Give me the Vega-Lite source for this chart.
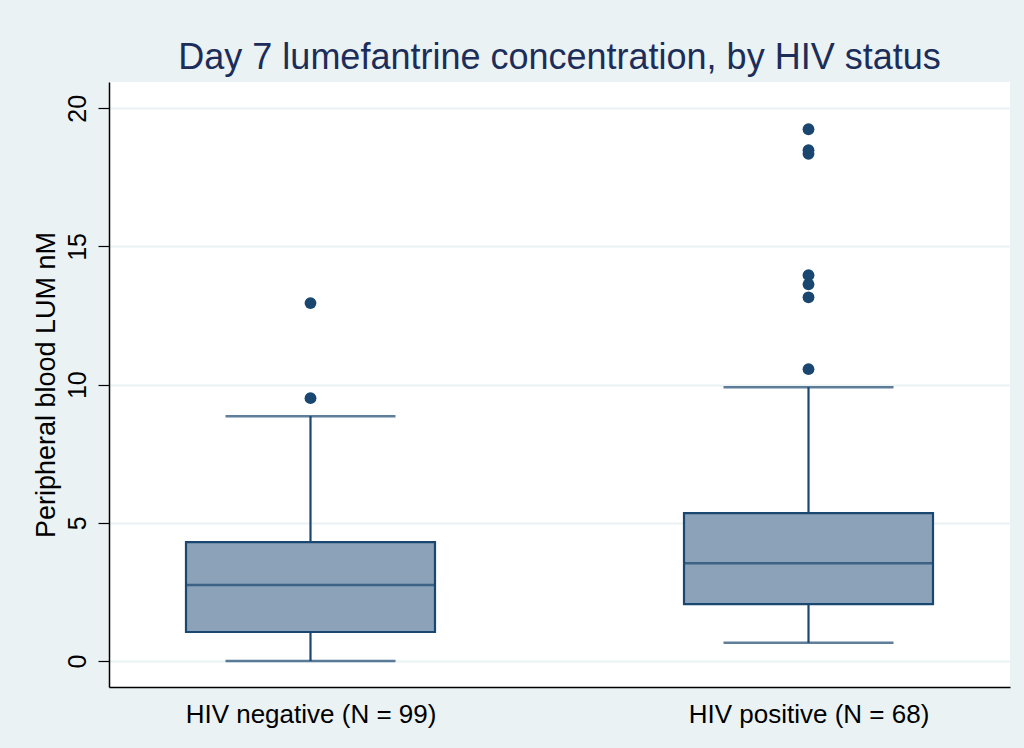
{
  "$schema": "https://vega.github.io/schema/vega-lite/v6.json",
  "autosize": {"type": "none"},
  "width": 901,
  "height": 605,
  "padding": {"left": 109, "top": 82, "right": 14, "bottom": 61},
  "background": "#EAF2F3",
  "view": {"fill": "white", "stroke": null},
  "title": {
    "text": "Day 7 lumefantrine concentration, by HIV status",
    "font": "Liberation Sans",
    "fontSize": 36,
    "fontWeight": "normal",
    "color": "#1C2D5A",
    "anchor": "middle",
    "offset": 5
  },
  "config": {
    "font": "Liberation Sans",
    "axis": {"labelFont": "Liberation Sans", "titleFont": "Liberation Sans"}
  },
  "datasets": {
    "boxes": [
      {"group": "HIV negative (N = 99)", "lower": 0.0, "q1": 1.05, "median": 2.75, "q3": 4.3, "upper": 8.86},
      {"group": "HIV positive (N = 68)", "lower": 0.66, "q1": 2.06, "median": 3.54, "q3": 5.35, "upper": 9.91}
    ],
    "outliers": [
      {"group": "HIV negative (N = 99)", "value": 9.51},
      {"group": "HIV negative (N = 99)", "value": 12.95},
      {"group": "HIV positive (N = 68)", "value": 10.56},
      {"group": "HIV positive (N = 68)", "value": 13.16},
      {"group": "HIV positive (N = 68)", "value": 13.63},
      {"group": "HIV positive (N = 68)", "value": 13.96},
      {"group": "HIV positive (N = 68)", "value": 18.35},
      {"group": "HIV positive (N = 68)", "value": 18.48},
      {"group": "HIV positive (N = 68)", "value": 19.24}
    ]
  },
  "encoding": {
    "x": {
      "field": "group",
      "type": "nominal",
      "scale": {"type": "point", "padding": 0.4046},
      "axis": {
        "title": null,
        "labelAngle": 0,
        "labelFontSize": 26,
        "labelLimit": 0,
        "labelColor": "#000000",
        "labelPadding": 14,
        "ticks": false,
        "grid": false,
        "domain": true,
        "domainColor": "#000000",
        "domainWidth": 1.5
      }
    }
  },
  "layer": [
    {
      "data": {"name": "boxes"},
      "mark": {"type": "rule", "color": "#1A476F", "strokeWidth": 2.2},
      "encoding": {
        "y": {
          "field": "lower",
          "type": "quantitative",
          "scale": {"domain": [-0.94, 20.95], "nice": false, "zero": false},
          "axis": {
            "values": [0, 5, 10, 15, 20],
            "title": "Peripheral blood LUM nM",
            "titleFontSize": 27,
            "titleFontWeight": "normal",
            "titleColor": "#000000",
            "titlePadding": 5,
            "labelFontSize": 25,
            "labelColor": "#000000",
            "labelAngle": -90,
            "labelAlign": "center",
            "labelBaseline": "bottom",
            "labelPadding": 8,
            "tickSize": 11,
            "tickColor": "#000000",
            "tickWidth": 1.2,
            "domainColor": "#000000",
            "domainWidth": 1.5,
            "grid": true,
            "gridColor": "#EAF2F3",
            "gridWidth": 2
          }
        },
        "y2": {"field": "upper"}
      }
    },
    {
      "data": {"name": "boxes"},
      "mark": {"type": "tick", "color": "#1A476F", "thickness": 2.5, "size": 170, "orient": "horizontal"},
      "encoding": {"y": {"field": "lower", "type": "quantitative"}}
    },
    {
      "data": {"name": "boxes"},
      "mark": {"type": "tick", "color": "#1A476F", "thickness": 2.5, "size": 170, "orient": "horizontal"},
      "encoding": {"y": {"field": "upper", "type": "quantitative"}}
    },
    {
      "data": {"name": "boxes"},
      "mark": {"type": "bar", "size": 249, "fill": "#8CA2B8", "stroke": "#1A476F", "strokeWidth": 2.2},
      "encoding": {
        "y": {"field": "q1", "type": "quantitative"},
        "y2": {"field": "q3"}
      }
    },
    {
      "data": {"name": "boxes"},
      "mark": {"type": "tick", "color": "#1A476F", "thickness": 2.5, "size": 249, "orient": "horizontal"},
      "encoding": {"y": {"field": "median", "type": "quantitative"}}
    },
    {
      "data": {"name": "outliers"},
      "mark": {"type": "point", "filled": true, "color": "#1A476F", "opacity": 1, "size": 140},
      "encoding": {"y": {"field": "value", "type": "quantitative"}}
    }
  ]
}
